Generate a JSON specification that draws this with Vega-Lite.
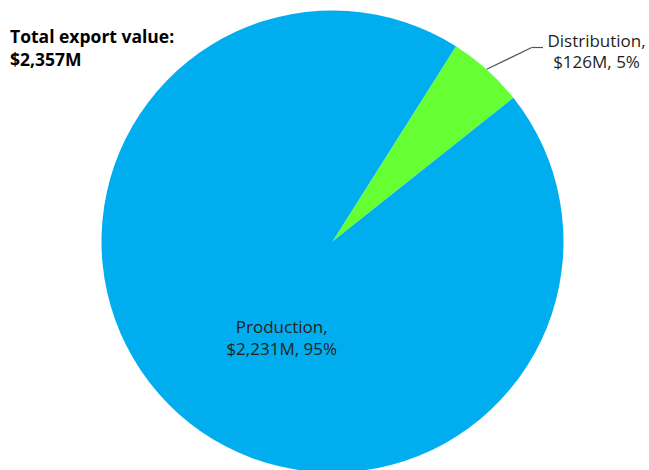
{
  "$schema": "https://vega.github.io/schema/vega-lite/v6.json",
  "width": 633,
  "height": 457,
  "autosize": {"type": "none"},
  "padding": {"left": 16, "top": 13, "right": 0, "bottom": 0},
  "background": "white",
  "title": {
    "text": ["Total export value:", "$2,357M"],
    "anchor": "start",
    "frame": "group",
    "orient": "top",
    "baseline": "alphabetic",
    "offset": 0,
    "dx": -6,
    "dy": 73,
    "font": "Open Sans",
    "fontSize": 17.5,
    "fontWeight": "bold",
    "color": "#000000",
    "lineHeight": 23
  },
  "data": {
    "values": [
      {"category": "Distribution", "value": 126, "share": 5},
      {"category": "Production", "value": 2231, "share": 95}
    ]
  },
  "transform": [
    {"calculate": "[datum.category + ',', '$' + format(datum.value, ',') + 'M, ' + datum.share + '%']", "as": "label"}
  ],
  "encoding": {
    "theta": {"field": "value", "type": "quantitative", "stack": true, "scale": {"range": [0.5637, 6.8469]}},
    "order": {"field": "category", "type": "nominal", "sort": "ascending"}
  },
  "layer": [
    {
      "mark": {"type": "arc", "outerRadius": 231, "strokeWidth": 0},
      "encoding": {
        "color": {"field": "category", "type": "nominal", "scale": {"domain": ["Distribution", "Production"], "range": ["#66FF33", "#00AEEF"]}, "legend": null}
      }
    },
    {
      "mark": {"type": "text", "radius": 100, "dx": 16, "dy": 17, "align": "center", "baseline": "alphabetic", "font": "Open Sans", "fontSize": 17, "lineHeight": 22, "fill": "#231F20"},
      "encoding": {
        "text": {"condition": {"test": "datum.category === 'Production'", "field": "label"}, "value": ""}
      }
    },
    {
      "mark": {"type": "text", "radius": 250, "dx": 97, "dy": -8, "align": "center", "baseline": "alphabetic", "font": "Open Sans", "fontSize": 17, "lineHeight": 21, "fill": "#231F20"},
      "encoding": {
        "text": {"condition": {"test": "datum.category === 'Distribution'", "field": "label"}, "value": ""}
      }
    },
    {
      "data": {"values": [{}]},
      "mark": {"type": "rule", "stroke": "#555555", "strokeWidth": 1.2},
      "encoding": {
        "x": {"value": 470.7}, "y": {"value": 56.3},
        "x2": {"value": 515.7}, "y2": {"value": 34.5}
      }
    },
    {
      "data": {"values": [{}]},
      "mark": {"type": "rule", "stroke": "#555555", "strokeWidth": 1.2},
      "encoding": {
        "x": {"value": 515.7}, "y": {"value": 34.5},
        "x2": {"value": 527}, "y2": {"value": 34.5}
      }
    }
  ],
  "config": {"view": {"stroke": null}}
}
